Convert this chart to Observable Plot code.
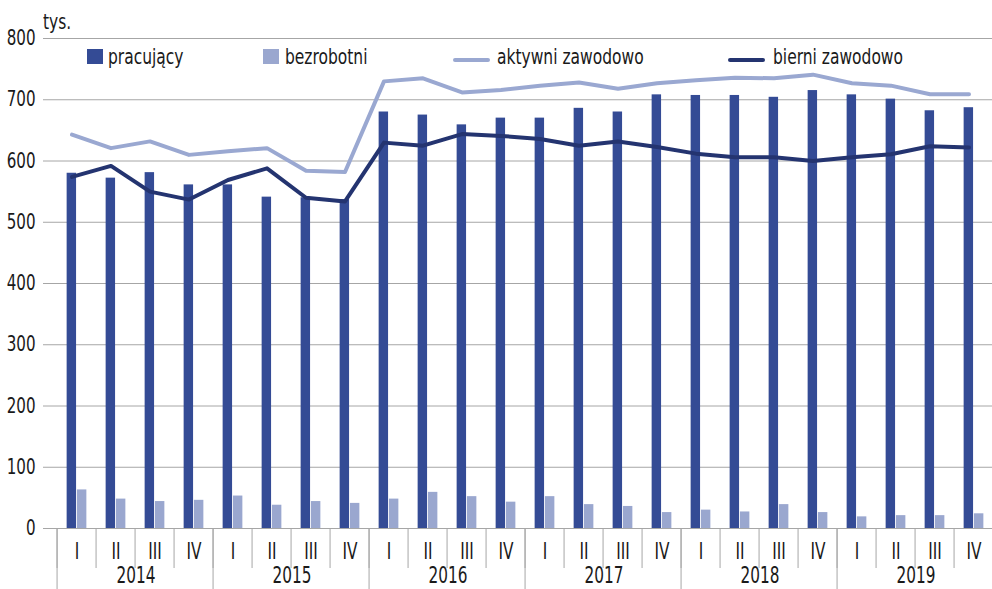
<!DOCTYPE html>
<html>
<head>
<meta charset="utf-8">
<script src="https://cdn.jsdelivr.net/npm/d3@7"></script>
<script src="https://cdn.jsdelivr.net/npm/@observablehq/plot@0.6"></script>
<style>
  body { margin: 0; background: #fff; }
  #wrap { position: relative; width: 992px; height: 589px; overflow: hidden; font-family: "Liberation Sans Narrow", "DejaVu Sans Condensed", sans-serif; color: #1a1a1a; }
  .t { position: absolute; font-size: 21px; line-height: 20px; white-space: nowrap; transform: scaleX(0.82); transform-origin: 0 0; }
  .sq { position: absolute; width: 16px; height: 15px; }
  .ln { position: absolute; height: 4px; border-radius: 2px; }
</style>
</head>
<body>
<div id="wrap">
  <div id="chart"></div>
  <div class="t" style="left:43px; top:12px;">tys.</div>
  <div class="sq" style="left:87px; top:49px; background:#344b95;"></div>
  <div class="t" style="left:108px; top:47px;">pracujący</div>
  <div class="sq" style="left:263px; top:49px; background:#9aa7cf;"></div>
  <div class="t" style="left:285px; top:47px;">bezrobotni</div>
  <div class="ln" style="left:453px; width:37px; top:58px; background:#9aa8d1;"></div>
  <div class="t" style="left:497px; top:47px;">aktywni zawodowo</div>
  <div class="ln" style="left:728px; width:37px; top:58px; background:#243470;"></div>
  <div class="t" style="left:773px; top:47px;">bierni zawodowo</div>
</div>
<script>
const years = ["2014", "2015", "2016", "2017", "2018", "2019"];
const quarters = ["I", "II", "III", "IV"];
const yTicks = [0, 100, 200, 300, 400, 500, 600, 700, 800];

const pracujacy = [580, 572, 581, 561, 561, 541, 540, 537, 680, 675, 659, 670, 670, 686, 680, 708, 707, 707, 704, 715, 708, 701, 682, 687];
const bezrobotni = [63, 48, 44, 46, 53, 38, 44, 41, 48, 59, 52, 43, 52, 39, 36, 26, 30, 27, 39, 26, 19, 21, 21, 24];
const aktywni = [643, 621, 632, 610, 616, 621, 584, 582, 730, 735, 712, 716, 723, 728, 718, 727, 732, 736, 735, 741, 727, 723, 709, 709];
const bierni = [574, 592, 550, 537, 569, 588, 540, 534, 630, 625, 644, 641, 636, 625, 632, 623, 612, 606, 606, 600, 606, 611, 624, 622];

const keys = years.flatMap(y => quarters.map(q => `${y} ${q}`));
const data = keys.map((k, i) => ({key: k, pracujacy: pracujacy[i], bezrobotni: bezrobotni[i], aktywni: aktywni[i], bierni: bierni[i]}));
const q1Keys = years.map(y => `${y} I`);
const q2Keys = years.map(y => `${y} II`);

const band = (1003 - 46) / keys.length;
const half = band / 2;
const barW = 10.3;
const grey = "#a6a6a6";

const chart = Plot.plot({
  width: 992,
  height: 600,
  marginLeft: 43,
  marginRight: 0,
  marginTop: 38,
  marginBottom: 72,
  style: {fontFamily: '"Liberation Sans Narrow", "DejaVu Sans Condensed", sans-serif', fontSize: "20px", color: "#1a1a1a", background: "#fff"},
  x: {domain: keys, range: [46, 1003], padding: 0},
  y: {domain: [0, 800]},
  marks: [
    Plot.gridY(yTicks, {stroke: grey, strokeOpacity: 1, strokeWidth: 1}),
    Plot.barY(data, {x: "key", y: "pracujacy", fill: "#344b95", insetLeft: half - barW, insetRight: half}),
    Plot.barY(data, {x: "key", y: "bezrobotni", fill: "#9aa7cf", insetLeft: half, insetRight: half - barW}),
    Plot.lineY(data, {x: "key", y: "aktywni", stroke: "#9aa8d1", strokeWidth: 4, dx: -5, strokeLinejoin: "round", strokeLinecap: "round"}),
    Plot.lineY(data, {x: "key", y: "bierni", stroke: "#243470", strokeWidth: 4, dx: -5, strokeLinejoin: "round", strokeLinecap: "round"}),
    Plot.axisY(yTicks, {tickSize: 0, tickPadding: 8, label: null, fontSize: 21}),
    // quarter separators
    Plot.axisX(keys, {tickSize: 40, tickFormat: () => "", dx: -half, stroke: grey, label: null}),
    // year separators
    Plot.axisX(q1Keys, {tickSize: 70, tickFormat: () => "", dx: -half, stroke: grey, label: null}),
    // quarter labels
    Plot.axisX(keys, {tickSize: 0, tickPadding: 14, tickFormat: d => d.split(" ")[1], label: null, fontSize: 23}),
    // year labels
    Plot.axisX(q2Keys, {tickSize: 0, tickPadding: 38, tickFormat: d => d.split(" ")[0], dx: half, label: null, fontSize: 23})
  ]
});

// condense axis label glyphs horizontally (narrow typeface look)
d3.select(chart).selectAll("g[aria-label='y-axis tick label'] text")
  .attr("transform", function() { return (this.getAttribute("transform") || "") + " scale(0.8,1)"; });
d3.select(chart).selectAll("g[aria-label='x-axis tick label'] text")
  .attr("transform", function() { return (this.getAttribute("transform") || "") + " scale(0.74,1)"; });

document.getElementById("chart").appendChild(chart);
</script>
</body>
</html>
